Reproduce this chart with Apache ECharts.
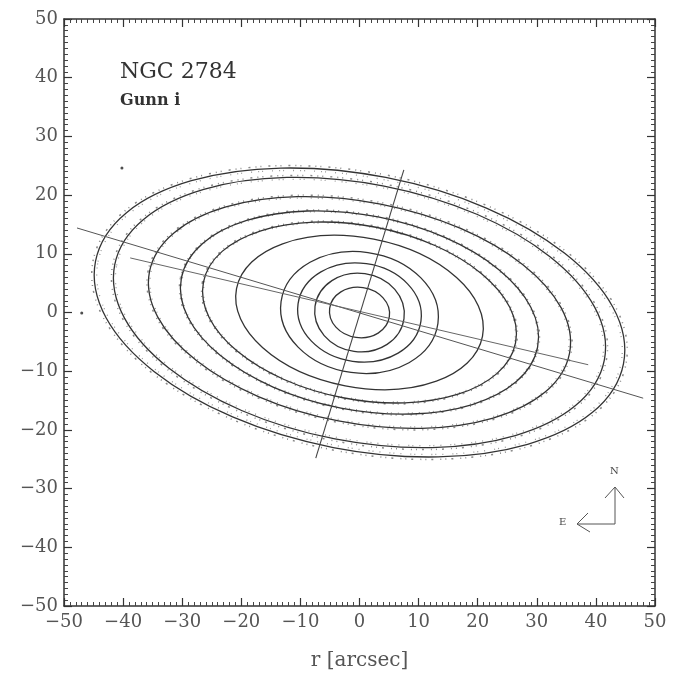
<!DOCTYPE html>
<html lang="en" style="height: 100%;width: 100%">
<head>
    <meta charset="utf-8">
</head>
<body style="height: 100%;width: 100%; margin: 0; background: #fff">
<div id="container" style="height: 100%;width: 100%;"></div>
<script type="text/javascript" src="https://cdn.jsdelivr.net/npm/echarts@6/dist/echarts.min.js"></script>
<script type="text/javascript">
    // isophote ellipses: semi-major axis (arcsec), axis ratio b/a, angle (deg, ccw from +x)
    var ringSemiMajor = [5.1, 7.6, 10.5, 13.4, 21.2, 26.9, 30.7, 36.2, 42.2, 45.5];
    var ringAxisRatio = [0.84, 0.88, 0.80, 0.77, 0.60, 0.55, 0.54, 0.52, 0.52, 0.515];
    var ringAngle = [-8, -8, -8, -8, -11, -11, -11, -11, -11, -11];
    // outer rings carry a band of scattered isophote points
    var ringScatter = [0, 0, 0, 0, 0, 1, 1, 1.5, 2, 2.5];

    // axis lines drawn through the centre
    var majorAxisLine = [[-47.8, 14.4], [48.0, -14.6]];
    var outerAxisLine = [[-38.8, 9.3], [38.7, -8.9]];
    var minorAxisLine = [[-7.4, -24.8], [7.5, 24.3]];

    // a few stray points outside the rings
    var strayPoints = [[-40.2, 24.6], [-47.0, -0.1]];

    var axisMin = -50, axisMax = 50, axisStep = 10;

    var ringData = [];
    for (var i = 0; i < ringSemiMajor.length; i++) {
        ringData.push([0, 0, ringSemiMajor[i], ringAxisRatio[i], ringAngle[i], ringScatter[i]]);
    }

    var dom = document.getElementById('container');
    var myChart = echarts.init(dom, null, {renderer: 'canvas'});

    var labelFont = {
        fontFamily: 'DejaVu Serif',
        fontSize: 18,
        color: '#555'
    };

    function minusLabel(v) {
        return String(v).replace('-', '\u2212');
    }

    function frameAxis(extra) {
        var base = {
            min: axisMin,
            max: axisMax,
            interval: axisStep,
            axisLine: {show: true, onZero: false, lineStyle: {color: '#333', width: 1.5}},
            axisTick: {show: true, inside: true, length: 8, lineStyle: {color: '#333', width: 1.2}},
            minorTick: {show: true, splitNumber: 10, length: 4, lineStyle: {color: '#444', width: 1}},
            splitLine: {show: false},
            axisLabel: {show: false}
        };
        for (var k in extra) base[k] = extra[k];
        return base;
    }

    var option = {
        animation: false,
        backgroundColor: '#fff',
        grid: {left: 64, right: 27, top: 19, bottom: 70},
        xAxis: [
            frameAxis({
                type: 'value',
                position: 'bottom',
                name: 'r [arcsec]',
                nameLocation: 'middle',
                nameGap: 45,
                nameTextStyle: {fontFamily: 'DejaVu Serif', fontSize: 20, color: '#555'},
                axisLabel: Object.assign({show: true, margin: 7, formatter: minusLabel}, labelFont)
            }),
            frameAxis({type: 'value', position: 'top'})
        ],
        yAxis: [
            frameAxis({
                type: 'value',
                position: 'left',
                axisLabel: Object.assign({show: true, margin: 6, formatter: minusLabel}, labelFont)
            }),
            frameAxis({type: 'value', position: 'right'})
        ],
        graphic: [
            {
                type: 'text', left: 120, top: 61,
                style: {text: 'NGC 2784', font: '22px "DejaVu Serif"', fill: '#333'}
            },
            {
                type: 'text', left: 120, top: 93,
                style: {text: 'Gunn i', font: 'bold 16px "DejaVu Serif"', fill: '#333'}
            },
            // compass
            {
                type: 'polyline',
                shape: {points: [[615, 487], [615, 524], [577, 524]]},
                style: {stroke: '#555', lineWidth: 1, fill: null}
            },
            {
                type: 'polyline',
                shape: {points: [[605, 498], [615, 487], [624, 498]]},
                style: {stroke: '#555', lineWidth: 1, fill: null}
            },
            {
                type: 'polyline',
                shape: {points: [[588, 513], [577, 524], [590, 532]]},
                style: {stroke: '#555', lineWidth: 1, fill: null}
            },
            {
                type: 'text', left: 610, top: 466,
                style: {text: 'N', font: '10px "DejaVu Serif"', fill: '#444'}
            },
            {
                type: 'text', left: 559, top: 517,
                style: {text: 'E', font: '10px "DejaVu Serif"', fill: '#444'}
            }
        ],
        series: [
            {
                type: 'custom',
                coordinateSystem: 'cartesian2d',
                data: ringData,
                encode: {x: 0, y: 1},
                silent: true,
                renderItem: function (params, api) {
                    var c = api.coord([api.value(0), api.value(1)]);
                    var a = api.value(2);
                    var b = a * api.value(3);
                    var rx = api.size([a, 0])[0];
                    var ry = api.size([0, b])[1];
                    var rot = api.value(4) * Math.PI / 180;
                    var spread = api.value(5);
                    var children = [];
                    if (spread > 0) {
                        children.push({
                            type: 'ellipse',
                            shape: {cx: 0, cy: 0, rx: rx + spread, ry: ry + spread},
                            style: {fill: null, stroke: '#8a8a8a', lineWidth: 1.5, lineDash: [1, 4, 1, 7, 2, 5]}
                        });
                        children.push({
                            type: 'ellipse',
                            shape: {cx: 0, cy: 0, rx: rx - spread, ry: ry - spread},
                            style: {fill: null, stroke: '#9a9a9a', lineWidth: 1.3, lineDash: [1, 6, 1, 3, 1, 9]}
                        });
                    }
                    children.push({
                        type: 'ellipse',
                        shape: {cx: 0, cy: 0, rx: rx, ry: ry},
                        style: {fill: null, stroke: '#333', lineWidth: 1.3}
                    });
                    return {
                        type: 'group',
                        x: c[0],
                        y: c[1],
                        rotation: rot,
                        children: children
                    };
                }
            },
            {
                type: 'line', data: majorAxisLine, symbol: 'none', silent: true,
                lineStyle: {color: '#555', width: 1}
            },
            {
                type: 'line', data: outerAxisLine, symbol: 'none', silent: true,
                lineStyle: {color: '#666', width: 1}
            },
            {
                type: 'line', data: minorAxisLine, symbol: 'none', silent: true,
                lineStyle: {color: '#444', width: 1.1}
            },
            {
                type: 'scatter', data: strayPoints, symbolSize: 3, silent: true,
                itemStyle: {color: '#222'}
            }
        ]
    };
    myChart.setOption(option);
</script>
</body>
</html>
